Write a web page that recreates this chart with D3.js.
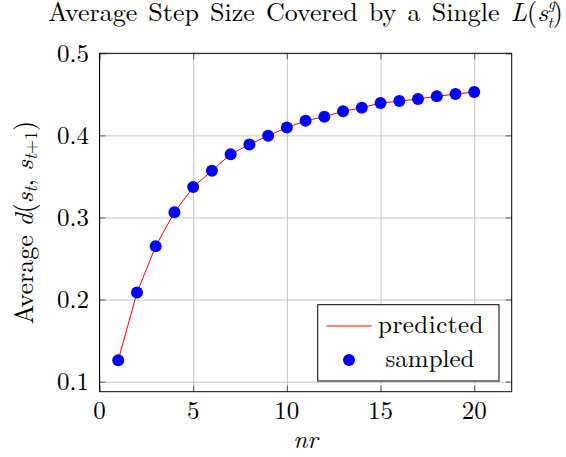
<!DOCTYPE html>
<html>
<head>
<meta charset="utf-8">
<script src="https://cdn.jsdelivr.net/npm/d3@7"></script>
<style>
  body { margin: 0; background: #fff; }
  svg { display: block; }
</style>
</head>
<body>
<svg id="chart" width="566" height="457"></svg>
<script>
// values
const nr = [1, 2, 3, 4, 5, 6, 7, 8, 9, 10, 11, 12, 13, 14, 15, 16, 17, 18, 19, 20];
const predicted = [0.126, 0.2085, 0.265, 0.3065, 0.337, 0.357, 0.377, 0.389, 0.3995, 0.4097,
  0.4178, 0.4227, 0.4293, 0.4337, 0.4394, 0.4418, 0.4443, 0.4476, 0.4504, 0.4528];
const sampled = [0.126, 0.2085, 0.265, 0.3065, 0.337, 0.357, 0.377, 0.389, 0.3995, 0.4097,
  0.4178, 0.4227, 0.4293, 0.4337, 0.4394, 0.4418, 0.4443, 0.4476, 0.4504, 0.4528];
const xTicks = [0, 5, 10, 15, 20];
const yTicks = [0.1, 0.2, 0.3, 0.4, 0.5];
const legendNames = ["predicted", "sampled"];

const FONT = "Latin Modern Roman";
const svg = d3.select("#chart");
const width = 566, height = 457;
const margin = { top: 53.3, right: 54.3, bottom: 65.3, left: 99.5 };
const innerW = width - margin.left - margin.right;
const innerH = height - margin.top - margin.bottom;

const x = d3.scaleLinear().domain([0, 22]).range([0, innerW]);
const y = d3.scaleLinear().domain([0.0878, 0.5]).range([innerH, 0]);

function label(sel) {
  return sel.attr("font-family", FONT).attr("font-size", 25).attr("fill", "#000");
}

const g = svg.append("g").attr("transform", `translate(${margin.left},${margin.top})`);

// grid
g.append("g")
  .attr("class", "grid")
  .attr("transform", `translate(0,${innerH})`)
  .call(d3.axisBottom(x).tickValues(xTicks).tickSize(-innerH).tickFormat(""));
g.append("g")
  .attr("class", "grid")
  .call(d3.axisLeft(y).tickValues(yTicks).tickSize(-innerW).tickFormat(""));
g.selectAll(".grid .domain").remove();
g.selectAll(".grid line").attr("stroke", "#c4c4c4").attr("stroke-width", 1);

// inner tick marks on all four sides
const tl = 6;
const tickAxes = [
  [d3.axisBottom(x).tickValues(xTicks), `translate(0,${innerH})`],
  [d3.axisTop(x).tickValues(xTicks), "translate(0,0)"],
  [d3.axisLeft(y).tickValues(yTicks), "translate(0,0)"],
  [d3.axisRight(y).tickValues(yTicks), `translate(${innerW},0)`]
];
tickAxes.forEach(([ax, tr]) => {
  const a = g.append("g").attr("transform", tr)
    .call(ax.tickSize(-tl).tickFormat(""));
  a.select(".domain").remove();
  a.selectAll("line").attr("stroke", "#555").attr("stroke-width", 1);
});

// tick labels
g.selectAll(".xlab")
  .data(xTicks)
  .join("text")
  .call(label)
  .attr("x", d => x(d))
  .attr("y", innerH + 27.5)
  .attr("text-anchor", "middle")
  .text(d => d);
g.selectAll(".ylab")
  .data(yTicks)
  .join("text")
  .call(label)
  .attr("x", -10.5)
  .attr("y", d => y(d) + 8.5)
  .attr("text-anchor", "end")
  .text(d => d3.format(".1f")(d));

// frame
g.append("rect")
  .attr("width", innerW).attr("height", innerH)
  .attr("fill", "none").attr("stroke", "#000").attr("stroke-width", 1);

// predicted line
const line = d3.line().x((d, i) => x(nr[i])).y(d => y(d));
g.append("path")
  .datum(predicted)
  .attr("fill", "none")
  .attr("stroke", "#ff0000")
  .attr("stroke-width", 1)
  .attr("d", line);

// sampled points
g.selectAll(".pt")
  .data(sampled)
  .join("circle")
  .attr("cx", (d, i) => x(nr[i]))
  .attr("cy", d => y(d))
  .attr("r", 6)
  .attr("fill", "#0000ff");

// legend
const lg = svg.append("g");
lg.append("rect")
  .attr("x", 317.7).attr("y", 304.7)
  .attr("width", 181.3).attr("height", 76.3)
  .attr("fill", "#fff").attr("stroke", "#000").attr("stroke-width", 1);
lg.append("line")
  .attr("x1", 326.7).attr("x2", 371.7)
  .attr("y1", 326).attr("y2", 326)
  .attr("stroke", "#ff0000").attr("stroke-width", 1);
lg.append("circle")
  .attr("cx", 349).attr("cy", 360).attr("r", 6).attr("fill", "#0000ff");
lg.append("text").call(label)
  .attr("x", 378).attr("y", 333.3)
  .attr("letter-spacing", 0.5)
  .text(legendNames[0]);
lg.append("text").call(label)
  .attr("x", 430).attr("y", 366.7)
  .attr("text-anchor", "middle")
  .text(legendNames[1]);

// title
const title = svg.append("text").call(label)
  .attr("x", margin.left + innerW / 2)
  .attr("y", 21)
  .attr("font-size", 26)
  .attr("word-spacing", 2.5)
  .attr("text-anchor", "middle");
title.append("tspan").text("Average Step Size Covered by a Single ");
title.append("tspan").attr("font-style", "italic").text("L");
title.append("tspan").text("(");
title.append("tspan").attr("font-style", "italic").text("s");
title.append("tspan").attr("font-style", "italic").attr("font-size", 15).attr("dy", -12).text("g");
title.append("tspan").attr("font-style", "italic").attr("font-size", 15).attr("dx", -7).attr("dy", 19).text("t");
title.append("tspan").attr("dy", -7).text(")");

// x label
svg.append("text").call(label)
  .attr("x", margin.left + innerW / 2)
  .attr("y", 448)
  .attr("text-anchor", "middle")
  .attr("font-style", "italic")
  .text("nr");

// y label
const yl = svg.append("text").call(label)
  .attr("transform", `translate(33,${margin.top + innerH / 2}) rotate(-90)`)
  .attr("font-size", 26)
  .attr("text-anchor", "middle");
yl.append("tspan").text("Average ");
yl.append("tspan").attr("font-style", "italic").text("d");
yl.append("tspan").text("(");
yl.append("tspan").attr("font-style", "italic").text("s");
yl.append("tspan").attr("font-style", "italic").attr("font-size", 18).attr("dy", 4).text("t");
yl.append("tspan").attr("dy", -4).text(", ");
yl.append("tspan").attr("font-style", "italic").text("s");
yl.append("tspan").attr("font-style", "italic").attr("font-size", 18).attr("dy", 4).text("t");
yl.append("tspan").attr("font-size", 18).text("+1");
yl.append("tspan").attr("dy", -4).text(")");
</script>
</body>
</html>
